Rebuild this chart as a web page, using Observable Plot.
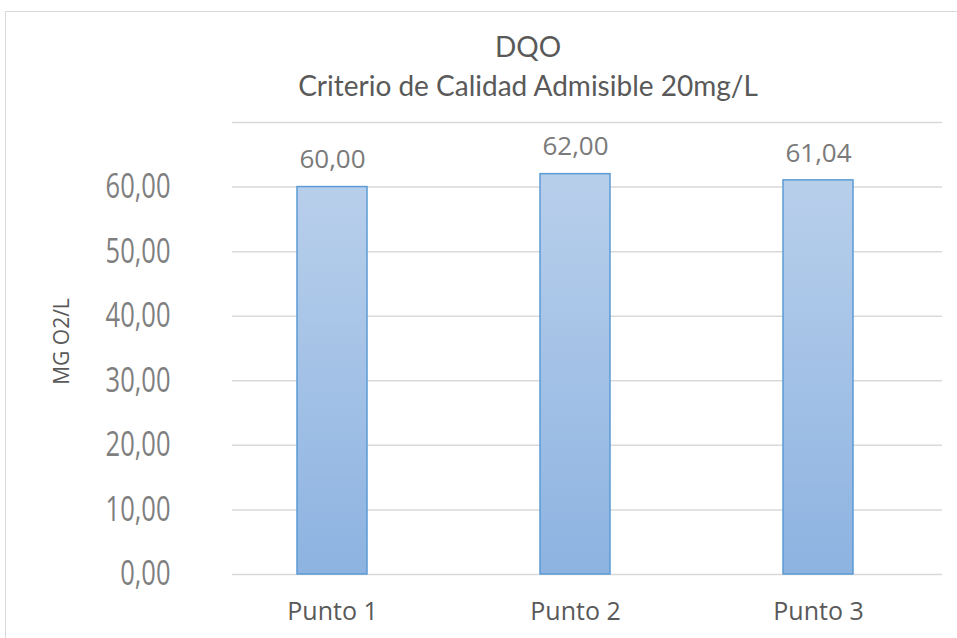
<!DOCTYPE html>
<html>
<head>
<meta charset="utf-8">
<script src="https://cdn.jsdelivr.net/npm/d3@7"></script>
<script src="https://cdn.jsdelivr.net/npm/@observablehq/plot@0.6"></script>
<style>
  html, body { margin: 0; padding: 0; background: #fff; }
  #wrap { position: relative; width: 957px; height: 638px; overflow: hidden; background: #fff; }
  #frame { position: absolute; left: 5px; top: 11px; width: 1000px; height: 700px; border: 1.5px solid #d9d9d9; box-sizing: border-box; }
  #title { position: absolute; left: 0; width: 1056px; top: 27px; text-align: center; font-family: Lato, "Open Sans", sans-serif; font-size: 28px; color: #595959; line-height: 39px; }
  #chart { position: absolute; left: 0; top: 0; }
</style>
</head>
<body>
<div id="wrap">
  <div id="frame"></div>
  <div id="chart"></div>
  <div id="title">DQO<br>Criterio de Calidad Admisible 20mg/L</div>
</div>
<script>
const categories = ["Punto 1", "Punto 2", "Punto 3"];
const values = [60.00, 62.00, 61.04];
const yTicks = [0, 10, 20, 30, 40, 50, 60];
const gridTicks = [0, 10, 20, 30, 40, 50, 60, 70];
const yLabel = "MG O2/L";

const data = categories.map((c, i) => ({cat: c, val: values[i]}));
const fmt = v => v.toFixed(2).replace(".", ",");

const gradient = () => {
  const ns = "http://www.w3.org/2000/svg";
  const defs = document.createElementNS(ns, "defs");
  const lg = document.createElementNS(ns, "linearGradient");
  lg.setAttribute("id", "barGrad");
  lg.setAttribute("x1", "0"); lg.setAttribute("y1", "0");
  lg.setAttribute("x2", "0"); lg.setAttribute("y2", "1");
  [["0%", "#b8cfeb"], ["100%", "#8db3e1"]].forEach(([o, c]) => {
    const s = document.createElementNS(ns, "stop");
    s.setAttribute("offset", o); s.setAttribute("stop-color", c);
    lg.appendChild(s);
  });
  defs.appendChild(lg);
  return defs;
};

const chart = Plot.plot({
  width: 957,
  height: 638,
  marginTop: 122,
  marginBottom: 64,
  marginLeft: 232,
  marginRight: 15,
  style: {background: "transparent", fontFamily: "'Open Sans', sans-serif"},
  x: {domain: categories, paddingInner: 0.712, paddingOuter: 0.316, align: 0.42, label: null},
  y: {domain: [0, 70], label: null},
  marks: [
    gradient,
    Plot.ruleY(gridTicks, {stroke: "#d9d9d9", strokeWidth: 1.5}),
    Plot.axisY(yTicks, {
      tickSize: 0, tickPadding: 0, dx: -62, tickFormat: fmt,
      fontSize: 34, fill: "#7f7f7f", textAnchor: "end",
      fontFamily: "'Open Sans', sans-serif",
      label: null
    }),
    Plot.text([yLabel], {
      frameAnchor: "left", textAnchor: "middle", dx: -170, dy: -7, rotate: -90,
      fontSize: 21, fill: "#595959", fontFamily: "'Open Sans', sans-serif"
    }),
    Plot.barY(data, {x: "cat", y: "val", fill: "url(#barGrad)", stroke: "#5b9bd5", strokeWidth: 1.5}),
    Plot.text(data, {x: "cat", y: "val", text: d => fmt(d.val), dy: -27, fontSize: 26, fill: "#7a7a7a"}),
    Plot.axisX({tickSize: 0, tickPadding: 28, fontSize: 25, fill: "#595959", label: null})
  ]
});
document.getElementById("chart").appendChild(chart);

// condense the y tick labels horizontally (narrow face as in the reference)
const tickTexts = new Set(yTicks.map(fmt));
chart.querySelectorAll("text").forEach(el => {
  if (!tickTexts.has(el.textContent.trim())) return;
  const g = el.closest("g");
  if (!g || g.getAttribute("font-size") !== "34") return;
  const t = el.getAttribute("transform");
  if (t && t.includes("translate")) {
    el.setAttribute("transform", t + " scale(0.75,1)");
  } else {
    const x = +el.getAttribute("x") || 0, y = +el.getAttribute("y") || 0;
    el.removeAttribute("x"); el.removeAttribute("y");
    el.setAttribute("transform", `translate(${x},${y}) scale(0.75,1)`);
  }
});
</script>
</body>
</html>
